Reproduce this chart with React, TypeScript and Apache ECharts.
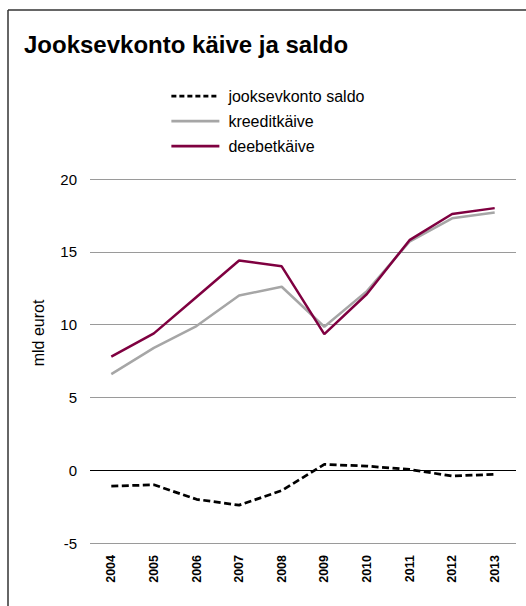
import React, { useEffect, useRef } from "react";
import * as echarts from "echarts";

const years = ["2004", "2005", "2006", "2007", "2008", "2009", "2010", "2011", "2012", "2013"];
const saldo = [-1.1, -1.0, -2.0, -2.4, -1.4, 0.4, 0.28, 0.05, -0.4, -0.28];
const kreedit = [6.6, 8.4, 9.9, 12.0, 12.6, 9.85, 12.3, 15.7, 17.3, 17.7];
const deebet = [7.8, 9.4, 11.9, 14.4, 14.0, 9.35, 12.1, 15.8, 17.6, 18.0];
const seriesNames = ["jooksevkonto saldo", "kreeditkäive", "deebetkäive"];

const FONT = '"Liberation Sans", Arial, Helvetica, sans-serif';

export default function App() {
  const ref = useRef<HTMLDivElement>(null);
  useEffect(() => {
    if (!ref.current) return;
    const chart = echarts.init(ref.current, null, { renderer: "svg" });
    chart.setOption({
      animation: false,
      backgroundColor: "#ffffff",
      textStyle: { fontFamily: FONT },
      title: {
        text: "Jooksevkonto käive ja saldo",
        left: 24,
        top: 32,
        padding: 0,
        textStyle: { fontFamily: FONT, fontSize: 24, fontWeight: "bold", color: "#000" },
      },
      legend: {
        orient: "vertical",
        left: 170,
        top: 88,
        padding: 0,
        itemWidth: 48,
        itemHeight: 16,
        itemGap: 9,
        itemStyle: { opacity: 0 },
        lineStyle: { width: 2.75 },
        textStyle: { fontFamily: FONT, fontSize: 16, color: "#000", padding: [0, 0, 0, 4] },
        data: [
          { name: seriesNames[0], lineStyle: { type: [5, 3], width: 2.75 } },
          { name: seriesNames[1] },
          { name: seriesNames[2] },
        ],
      },
      graphic: [
        { type: "line", shape: { x1: 8, y1: 10, x2: 526, y2: 10 }, style: { stroke: "#333", lineWidth: 1.5 } },
        { type: "line", shape: { x1: 8, y1: 10, x2: 8, y2: 606 }, style: { stroke: "#333", lineWidth: 1.5 } },
        {
          type: "text",
          x: 38,
          y: 333,
          rotation: Math.PI / 2,
          style: {
            text: "mld eurot",
            fontFamily: FONT,
            fontSize: 16,
            fill: "#000",
            align: "center",
            verticalAlign: "middle",
          },
        },
      ],
      grid: { left: 90, right: 10, top: 179, bottom: 63, containLabel: false },
      xAxis: {
        type: "category",
        data: years,
        boundaryGap: true,
        axisLine: { show: false },
        axisTick: { show: false },
        axisLabel: {
          rotate: 90,
          margin: 12,
          fontFamily: FONT,
          fontSize: 12.5,
          fontWeight: "bold",
          color: "#000",
        },
      },
      yAxis: {
        type: "value",
        min: -5,
        max: 20,
        interval: 5,
        axisLine: { show: false },
        axisTick: { show: false },
        axisLabel: { margin: 13, fontFamily: FONT, fontSize: 15, color: "#000" },
        splitLine: {
          lineStyle: {
            color: ["#9a9a9a", "#000000", "#9a9a9a", "#9a9a9a", "#9a9a9a", "#9a9a9a"],
            width: 1,
          },
        },
      },
      series: [
        {
          name: seriesNames[0],
          type: "line",
          data: saldo,
          symbol: "none",
          lineStyle: { color: "#000000", width: 2.75, type: [7, 3.5] },
          itemStyle: { color: "#000000" },
        },
        {
          name: seriesNames[1],
          type: "line",
          data: kreedit,
          symbol: "none",
          lineStyle: { color: "#a6a6a6", width: 2.5 },
          itemStyle: { color: "#a6a6a6" },
        },
        {
          name: seriesNames[2],
          type: "line",
          data: deebet,
          symbol: "none",
          lineStyle: { color: "#7f0040", width: 2.5 },
          itemStyle: { color: "#7f0040" },
        },
      ],
    });
    return () => chart.dispose();
  }, []);
  return (
    <div
      ref={ref}
      style={{ position: "absolute", left: 0, top: 0, width: 526, height: 606 }}
    />
  );
}
